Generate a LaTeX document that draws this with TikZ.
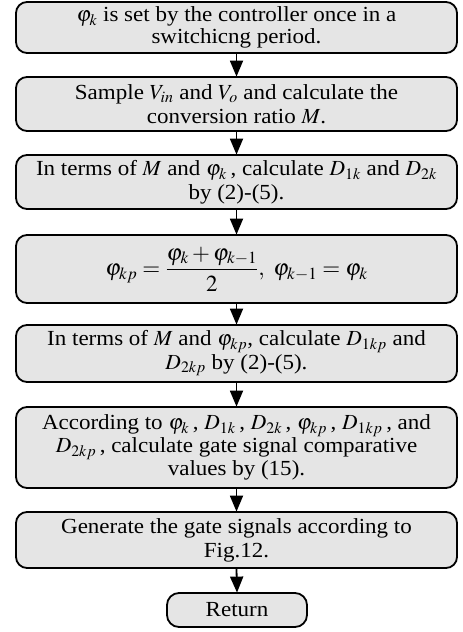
\documentclass[tikz,border=0pt]{standalone}
\usepackage{mathptmx}
\usepackage{fontspec}
\setmainfont[FakeStretch=1.07]{Liberation Serif}
\usetikzlibrary{arrows.meta}
\tikzset{
  stepbox/.style={draw=black, line width=1.8pt, fill=black!10, rounded corners=11pt,
    minimum width=441pt, inner sep=0pt, align=center,
    font=\fontsize{21.5pt}{23.5pt}\selectfont},
  endbox/.style={draw=black, line width=1.8pt, fill=black!10, rounded corners=12pt,
    minimum width=140pt, minimum height=34pt, inner sep=0pt, align=center,
    font=\fontsize{21.5pt}{23.5pt}\selectfont},
  flow/.style={line width=1.8pt, -{Triangle[length=16pt,width=13pt]}, shorten >=-0.5pt}
}
\begin{document}
\begin{tikzpicture}[x=1pt,y=1pt]
\useasboundingbox (0,0) rectangle (463,-632);
\node[stepbox, minimum height=51pt, font=\fontsize{21.5pt}{22pt}\selectfont] (b1) at (236.5,-27.5)
  {$\varphi_k$ is set by the controller once in a\\ switchicng period.};
\node[stepbox, minimum height=54pt] (b2) at (236.5,-104)
  {Sample $V_{in}$ and $V_o$ and calculate the\\ conversion ratio $M$.};
\node[stepbox, minimum height=54pt] (b3) at (236.5,-182)
  {In terms of $M$ and $\varphi_k$\,, calculate $D_{1k}$ and $D_{2k}$\\ by (2)-(5).};
\node[stepbox, minimum height=68pt, font=\fontsize{23pt}{25pt}\selectfont] (b4) at (236.5,-269)
  {$\displaystyle \varphi_{kp}=\frac{\varphi_k+\varphi_{k-1}}{2},\ \varphi_{k-1}=\varphi_k$};
\node[stepbox, minimum height=57pt] (b5) at (236.5,-353.5)
  {In terms of $M$ and $\varphi_{kp}$, calculate $D_{1kp}$ and\\ $D_{2kp}$ by (2)-(5).};
\node[stepbox, minimum height=81pt, font=\fontsize{21.5pt}{20.5pt}\selectfont] (b6) at (236.5,-447.5)
  {According to $\varphi_k$\,, $D_{1k}$\,, $D_{2k}$\,, $\varphi_{kp}$\,, $D_{1kp}$\,, and\\ $D_{2kp}$\,, calculate gate signal comparative\\ values by (15).};
\node[stepbox, minimum height=56pt, font=\fontsize{21.5pt}{24pt}\selectfont] (b7) at (236.5,-540)
  {Generate the gate signals according to\\ Fig.12.};
\node[endbox] (ret) at (237,-610) {Return};
\draw[flow] (b1.south) -- (b2.north);
\draw[flow] (b2.south) -- (b3.north);
\draw[flow] (b3.south) -- (b4.north);
\draw[flow] (b4.south) -- (b5.north);
\draw[flow] (b5.south) -- (b6.north);
\draw[flow] (b6.south) -- (b7.north);
\draw[flow] (b7.south) -- (ret.north);
\end{tikzpicture}
\end{document}
